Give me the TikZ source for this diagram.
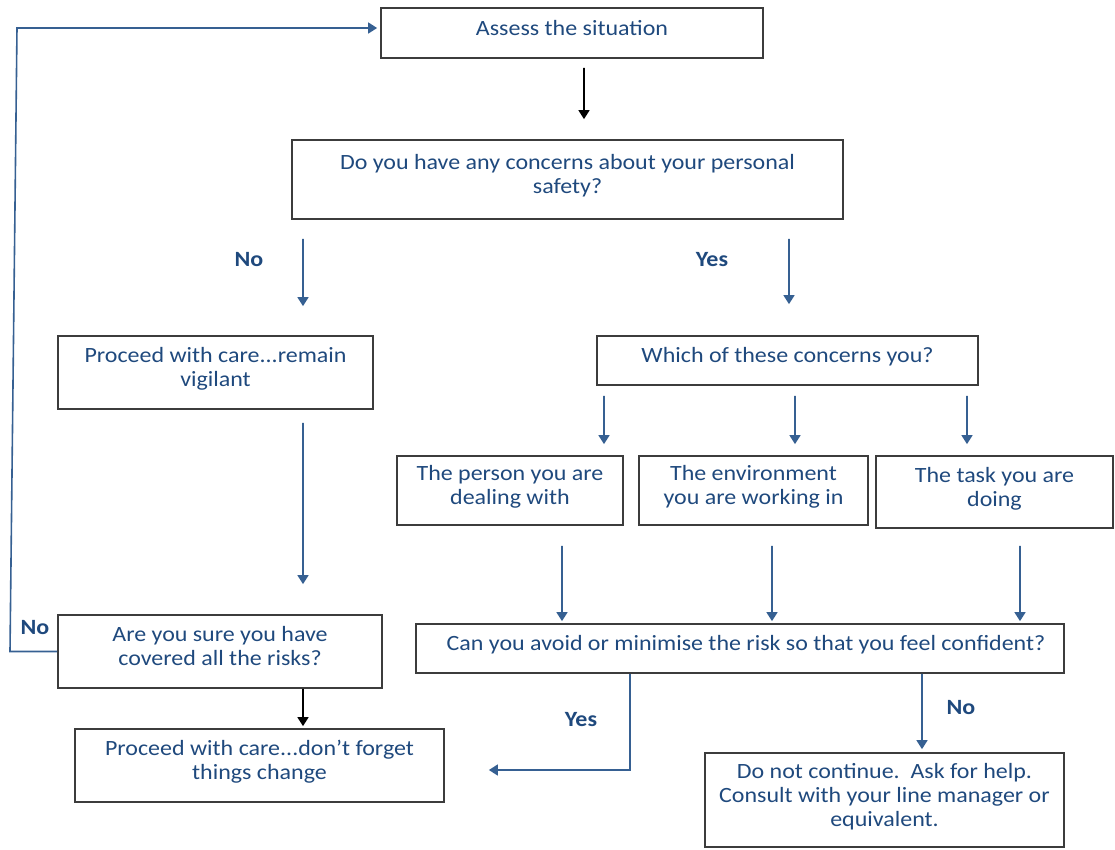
\documentclass[tikz,border=0pt]{standalone}
\usepackage{fontspec}
\setmainfont{Carlito}[FakeStretch=1.1]
\usetikzlibrary{arrows.meta,calc}
\definecolor{txtblue}{RGB}{31,73,125}
\definecolor{arrblue}{RGB}{54,96,146}
\definecolor{boxgray}{RGB}{60,60,60}
\tikzset{
  box/.style={draw=boxgray,line width=0.35mm,rectangle,align=center,text=txtblue,
    font=\fontsize{12.4}{13.7}\selectfont,inner sep=0pt,
    execute at end node={\rule[-2.2mm]{0pt}{0pt}}},
  flow/.style={draw=arrblue,line width=0.32mm,-{Triangle[length=1.8mm,width=2.2mm]}},
  flowk/.style={draw=black,line width=0.32mm,-{Triangle[length=1.8mm,width=2.2mm]}},
  lbl/.style={text=txtblue,font=\fontsize{12.4}{13.7}\selectfont\bfseries,inner sep=0pt}
}

\begin{document}
\begin{tikzpicture}[x=0.2mm,y=-0.2mm]
  \useasboundingbox (0,0) rectangle (1115,849);

  % boxes
  \node[box,minimum width=76.4mm,minimum height=10mm] (assess) at (572,33) {Assess the situation};
  \node[box,minimum width=110.2mm,minimum height=15.8mm] (concern) at (567.5,179.5)
    {Do you have any concerns about your personal\\ safety?\rule[-1.2mm]{0pt}{0pt}};
  \node[box,minimum width=63mm,minimum height=14.6mm] (vigilant) at (215.5,372.5)
    {Proceed with care...remain\\ vigilant};
  \node[box,minimum width=76.2mm,minimum height=9.8mm] (which) at (787.5,360.5)
    {Which of these concerns you?};
  \node[box,minimum width=45.2mm,minimum height=13.8mm] (person) at (510,490.5)
    {The person you are\\ dealing with};
  \node[box,minimum width=45.8mm,minimum height=13.8mm] (environ) at (753.5,490.5)
    {The environment\\ you are working in};
  \node[box,minimum width=47.4mm,minimum height=14.4mm] (task) at (994.5,492)
    {The task you are\\ doing};
  \node[box,minimum width=64.8mm,minimum height=14.6mm] (sure) at (220,651.5)
    {Are you sure you have\\ covered all the risks?};
  \node[box,minimum width=129.6mm,minimum height=9.8mm] (avoid) at (740,648.5)
    {\hspace{2.4mm}Can you avoid or minimise the risk so that you feel confident?};
  \node[box,minimum width=73.8mm,minimum height=14.6mm] (forget) at (259.5,765.5)
    {Proceed with care...don’t forget\\ things change};
  \node[box,minimum width=71.8mm,minimum height=18.8mm] (stop) at (884.5,800)
    {Do not continue.\ \ Ask for help.\\ Consult with your line manager or\\ equivalent.};

  % labels
  \node[lbl] (lno1) at (249,260) {No};
  \node[lbl] (lyes1) at (712,260) {Yes};
  \node[lbl] (lno2) at (35,628) {No};
  \node[lbl] (lyes2) at (581,720) {Yes};
  \node[lbl] (lno3) at (961,708) {No};

  % connectors
  \draw[flowk,shorten <=1.8mm,shorten >=4mm] ([xshift=2.4mm]assess.south) -- ([xshift=3.3mm]concern.north);
  \draw[flow,shorten <=3.8mm,shorten >=5.8mm] ([xshift=-52.9mm]concern.south) -- ([xshift=17.5mm]vigilant.north);
  \draw[flow,shorten <=3.8mm,shorten >=6.2mm] ([xshift=44.3mm]concern.south) -- ([xshift=0.3mm]which.north);

  \draw[flow,shorten <=2mm,shorten >=2.2mm] ([xshift=-36.7mm]which.south) -- ([xshift=18.8mm]person.north);
  \draw[flow,shorten <=2mm,shorten >=2.2mm] ([xshift=1.5mm]which.south) -- ([xshift=8.3mm]environ.north);
  \draw[flow,shorten <=2mm,shorten >=2.2mm] ([xshift=35.9mm]which.south) -- ([xshift=-5.5mm]task.north);

  \draw[flow,shorten <=2.6mm,shorten >=6mm] ([xshift=17.5mm]vigilant.south) -- ([xshift=16.6mm]sure.north);

  \draw[flow,shorten <=4mm,shorten >=0.4mm] ([xshift=10.4mm]person.south) -- ([xshift=-35.6mm]avoid.north);
  \draw[flow,shorten <=4mm,shorten >=0.4mm] ([xshift=3.7mm]environ.south) -- ([xshift=6.4mm]avoid.north);
  \draw[flow,shorten <=3.4mm,shorten >=0.4mm] ([xshift=5.1mm]task.south) -- ([xshift=56mm]avoid.north);

  \draw[flowk,shorten >=0.4mm] ([xshift=16.6mm]sure.south) -- ([xshift=8.7mm]forget.north);

  \coordinate (loopbot) at (10,651.5);
  \coordinate (looptop) at (17,28);
  \draw[flow,shorten >=0.6mm] (sure.west) -- (loopbot) -- (looptop) -- ([yshift=1mm]assess.west);

  \draw[flow,shorten >=8.8mm] ([xshift=-22mm]avoid.south) |- ([yshift=-0.9mm]forget.east);
  \draw[flow,shorten >=0.6mm] ([xshift=36.4mm]avoid.south) -- ([xshift=7.5mm]stop.north);
\end{tikzpicture}
\end{document}
